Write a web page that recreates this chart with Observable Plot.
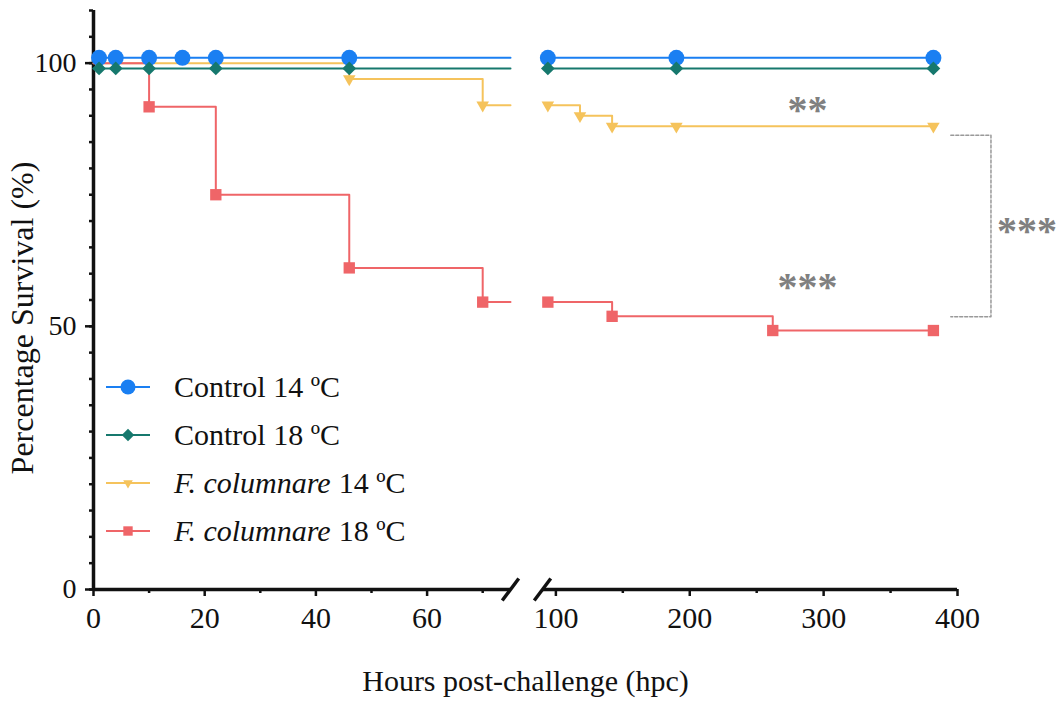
<!DOCTYPE html>
<html>
<head>
<meta charset="utf-8">
<script src="https://cdn.jsdelivr.net/npm/d3@7"></script>
<script src="https://cdn.jsdelivr.net/npm/@observablehq/plot@0.6"></script>
<style>
  body { margin: 0; background: #fff; }
  #wrap { position: relative; width: 1058px; height: 713px; font-family: "Liberation Serif", "Times New Roman", serif; }
  #legend { position: absolute; left: 106px; top: 363px; }
  .row { display: flex; align-items: center; height: 48px; font-size: 30px; color: #111; }
  .row svg { margin-right: 22px; }
  .row i { font-style: italic; margin-right: 8px; }
</style>
</head>
<body>
<div id="wrap"></div>
<script>
// ---------- data ----------
const seriesNames = ["Control 14 ºC", "Control 18 ºC", "F. columnare 14 ºC", "F. columnare 18 ºC"];
const seriesColors = ["#1a7ff2", "#16786d", "#f5c35c", "#ef6568"];
const seriesSymbols = ["circle", "diamond2", "triangle2", "square"];
const seriesStart = [101, 99, 100, 100];

const control14Hours = [1, 4, 10, 16, 22, 46, 94, 190, 382];
const control14Surv  = [101, 101, 101, 101, 101, 101, 101, 101, 101];
const control18Hours = [1, 4, 10, 22, 46, 94, 190, 382];
const control18Surv  = [99, 99, 99, 99, 99, 99, 99, 99];
const fc14Hours = [46, 70, 94, 118, 142, 190, 382];
const fc14Surv  = [97, 92, 92, 90, 88, 88, 88];
const fc18Hours = [10, 22, 46, 70, 94, 142, 262, 382];
const fc18Surv  = [91.7, 75, 61.1, 54.6, 54.6, 51.9, 49.2, 49.2];

const xSegments = [[0, 75], [90, 400]];            // broken x axis
const xMajorTicks = [0, 20, 40, 60, 100, 200, 300, 400];
const xMinorTicks = [10, 30, 50, 70, 150, 250, 350];
const yMajorTicks = [0, 50, 100];
const yMinorTicks = d3.range(0, 111, 5);

const starLabels = [
  {t: 288, s: 92.5, label: "**"},
  {t: 288, s: 59, label: "***"},
];
const bracket = [{t: 395, s: 86.3}, {t: 425, s: 86.3}, {t: 425, s: 51.8}, {t: 395, s: 51.8}];
const bracketLabel = [{t: 452, s: 69.5, label: "***"}];

// ---------- derived tables ----------
const hoursList = [control14Hours, control18Hours, fc14Hours, fc18Hours];
const survList = [control14Surv, control18Surv, fc14Surv, fc18Surv];

const points = [];
const lines = [];
seriesNames.forEach((name, i) => {
  const ev = hoursList[i].map((t, j) => ({name, t, s: survList[i][j]}));
  points.push(...ev);
  const left = ev.filter(d => d.t <= xSegments[0][1]);
  const lastLeft = left.length ? left[left.length - 1].s : seriesStart[i];
  lines.push({name, key: name + "L", t: xSegments[0][0], s: seriesStart[i]});
  left.forEach(d => lines.push({...d, key: name + "L"}));
  lines.push({name, key: name + "L", t: xSegments[0][1], s: lastLeft});
  ev.filter(d => d.t >= xSegments[1][0]).forEach(d => lines.push({...d, key: name + "R"}));
});

const slash = {
  draw(ctx, size) {
    const r = Math.sqrt(size / Math.PI);
    ctx.moveTo(-r * 0.75, r);
    ctx.lineTo(r * 0.75, -r);
  }
};
const breakPoints = [xSegments[0][1], xSegments[1][0]];

const dotR = [8, 6.2, 6, 6.4];
const legendR = [7.5, 5.6, 4.6, 5.3];
const font = '"Liberation Serif", "Times New Roman", serif';

const chart = Plot.plot({
  width: 1058,
  height: 713,
  marginTop: 10,
  marginLeft: 93,
  marginRight: 101,
  marginBottom: 124,
  style: {fontFamily: font, fontSize: "30px", color: "#111", background: "#fff", overflow: "visible"},
  x: {type: "linear", domain: [0, 75, 90, 400], range: [93, 510, 542, 957]},
  y: {domain: [0, 110]},
  color: {domain: seriesNames, range: seriesColors},
  marks: [
    // axes
    Plot.axisY(yMinorTicks, {tickSize: 4, strokeWidth: 2.5, text: null, label: null}),
    Plot.axisY(yMajorTicks, {tickSize: 8, strokeWidth: 2.5, tickPadding: 9, fontSize: 28, label: null}),
    Plot.axisX(xMinorTicks, {tickSize: 4, strokeWidth: 2.5, text: null, label: null}),
    Plot.axisX(xMajorTicks, {tickSize: 7, strokeWidth: 2.5, tickPadding: 10, fontSize: 30, label: null}),
    Plot.ruleX([0], {y1: 0, y2: 110, stroke: "#111", strokeWidth: 3.5}),
    Plot.ruleY(xSegments, {x1: d => d[0], x2: d => d[1], y: 0, stroke: "#111", strokeWidth: 3.5}),
    Plot.dot(breakPoints, {x: d => d, y: 0, symbol: slash, r: 11, stroke: "#111", strokeWidth: 3.5, fill: "none"}),
    // axis titles
    Plot.text(["Hours post-challenge (hpc)"], {frameAnchor: "bottom", dy: 101, fontSize: 30, fill: "#111"}),
    Plot.text(["Percentage Survival (%)"], {frameAnchor: "left", textAnchor: "middle", dx: -71, dy: 18, rotate: -90, fontSize: 32, fill: "#111"}),
    // survival curves
    Plot.line(lines, {x: "t", y: "s", z: "key", stroke: "name", curve: "step-after", strokeWidth: 2}),
    ...seriesNames.map((name, i) =>
      Plot.dot(points.filter(d => d.name === name), {
        x: "t", y: "s", fill: seriesColors[i], symbol: seriesSymbols[i], r: dotR[i],
        rotate: seriesSymbols[i] === "triangle2" ? 180 : 0
      })
    ),
    // significance annotations
    Plot.line(bracket, {x: "t", y: "s", stroke: "#999", strokeWidth: 1.5, strokeDasharray: "3,2"}),
    Plot.text(starLabels, {x: "t", y: "s", text: "label", fill: "#808080", fontWeight: "bold", fontSize: 40, dy: 8}),
    Plot.text(bracketLabel, {x: "t", y: "s", text: "label", fill: "#808080", fontWeight: "bold", fontSize: 40, dy: 8})
  ]
});

const wrap = document.getElementById("wrap");
wrap.appendChild(chart);

// legend
const legend = document.createElement("div");
legend.id = "legend";
const symbolPaths = {
  circle: r => d3.symbol(d3.symbolCircle, Math.PI * r * r)(),
  diamond2: r => d3.symbol(d3.symbolDiamond2, Math.PI * r * r)(),
  triangle2: r => d3.symbol(d3.symbolTriangle2, Math.PI * r * r)(),
  square: r => d3.symbol(d3.symbolSquare, Math.PI * r * r)()
};
seriesNames.forEach((name, i) => {
  const row = document.createElement("div");
  row.className = "row";
  const rot = seriesSymbols[i] === "triangle2" ? " rotate(180)" : "";
  row.innerHTML =
    `<svg width="46" height="20"><line x1="0" x2="44" y1="10" y2="10" stroke="${seriesColors[i]}" stroke-width="2"/>` +
    `<path transform="translate(22,10)${rot}" d="${symbolPaths[seriesSymbols[i]](legendR[i])}" fill="${seriesColors[i]}"/></svg>`;
  const span = document.createElement("span");
  if (name.startsWith("F. columnare")) {
    span.innerHTML = `<i>F. columnare</i>${name.slice("F. columnare ".length)}`;
  } else {
    span.textContent = name;
  }
  row.appendChild(span);
  legend.appendChild(row);
});
wrap.appendChild(legend);
</script>
</body>
</html>
